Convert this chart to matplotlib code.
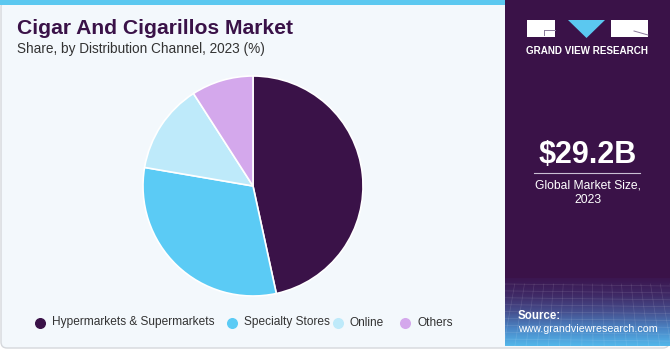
import matplotlib
matplotlib.use("Agg")
import matplotlib.pyplot as plt
import numpy as np
from matplotlib.patches import Rectangle, FancyBboxPatch, Polygon

plt.rcParams["font.family"] = ["Liberation Sans", "DejaVu Sans"]

# Data
channels = ["Hypermarkets & Supermarkets", "Specialty Stores", "Online", "Others"]
shares = [46.6, 31.1, 13.2, 9.1]
colors = ["#3A1248", "#5BCBF5", "#BEEAFA", "#D4A8EC"]

title = "Cigar And Cigarillos Market"
subtitle = "Share, by Distribution Channel, 2023 (%)"
market_size = "$29.2B"
market_label = "Global Market Size,\n2023"

W, H = 670, 350
fig = plt.figure(figsize=(W / 100, H / 100), dpi=100)
fig.patch.set_facecolor("white")

# Background canvas in pixel coordinates (origin top-left)
bg = fig.add_axes([0, 0, 1, 1])
bg.set_xlim(0, W)
bg.set_ylim(H, 0)
bg.axis("off")

# Main card
bg.add_patch(FancyBboxPatch((1, 1), W - 2, H - 3, boxstyle="round,pad=0,rounding_size=6",
                            facecolor="#F3F8FC", edgecolor="#D5D8DC", linewidth=1.0))
bg.add_patch(Rectangle((0, 0), 505, 5, facecolor="#5BC8F0", edgecolor="none"))

# Right panel
bg.add_patch(Rectangle((505, 0), W - 505, 346, facecolor="#3A1248", edgecolor="none"))
grad = np.linspace(0, 1, 100)[:, None]
cmap = matplotlib.colors.LinearSegmentedColormap.from_list(
    "panel", ["#3B1650", "#3F2A66", "#46508F", "#4B86C6", "#52B6EA"])
bg.imshow(grad, extent=(505, W, 346, 278), cmap=cmap, aspect="auto", zorder=1)
# faint mesh in the lower panel
for yy in np.linspace(284, 346, 10):
    bg.plot([505, W], [yy, yy + 2], color="white", alpha=0.12, lw=0.5, zorder=2)
for xx in np.linspace(505, W, 18):
    bg.plot([xx, xx + (xx - 588) * 0.15], [284, 346], color="white", alpha=0.12, lw=0.5, zorder=2)

# Logo
bg.add_patch(Rectangle((527, 20), 28, 17, facecolor="white", edgecolor="none", zorder=3))
bg.add_patch(Rectangle((611, 20), 37, 17, facecolor="white", edgecolor="none", zorder=3))
bg.add_patch(Polygon([(568, 20), (605, 20), (586.5, 38)], closed=True,
                     facecolor="#5BC8F0", edgecolor="none", zorder=3))
bg.plot([544, 555], [30, 30], color="#8A7A9A", lw=0.7, zorder=4)
bg.plot([544, 544], [30, 35], color="#8A7A9A", lw=0.7, zorder=4)
bg.plot([634, 648], [31, 35], color="#8A7A9A", lw=0.7, zorder=4)
bg.text(587.5, 51, "GRAND VIEW RESEARCH", color="white", fontsize=7.1,
        fontweight="bold", ha="center", va="center", zorder=4)

# Market size
bg.text(588, 155, market_size, color="white", fontsize=22, fontweight="bold",
        ha="center", va="center", zorder=4)
bg.plot([534, 640], [173, 173], color="#C9BFD3", lw=0.8, zorder=4)
bg.text(588, 193, market_label, color="white", fontsize=8.7, ha="center",
        va="center", linespacing=1.3, zorder=4)

# Source
bg.text(518, 316, "Source:", color="white", fontsize=8.3, fontweight="bold",
        ha="left", va="center", zorder=4)
bg.text(518, 329, "www.grandviewresearch.com", color="white", fontsize=7.7,
        ha="left", va="center", zorder=4)

# Titles
bg.text(17, 28, title, color="#3A1248", fontsize=15.2, fontweight="bold",
        ha="left", va="center")
bg.text(17, 49, subtitle, color="#333333", fontsize=9.8, ha="left", va="center")

# Pie
cx, cy, r = 253, 186, 110
pie_ax = fig.add_axes([(cx - r) / W, (H - cy - r) / H, 2 * r / W, 2 * r / H])
pie_ax.pie(shares, colors=colors, startangle=90, counterclock=False,
           wedgeprops=dict(edgecolor="white", linewidth=1.2))
pie_ax.set_xlim(-1, 1)
pie_ax.set_ylim(-1, 1)
pie_ax.set_aspect("equal")
pie_ax.axis("off")

# Legend
legend_x = [40, 232, 338, 405]
for x, name, c in zip(legend_x, channels, colors):
    bg.scatter([x], [322.5], s=48, color=c, zorder=4)
    bg.text(x + 12, 322.5, name, color="#333333", fontsize=8.6, ha="left", va="center")

fig.savefig("out.png", dpi=100, facecolor=fig.get_facecolor())
